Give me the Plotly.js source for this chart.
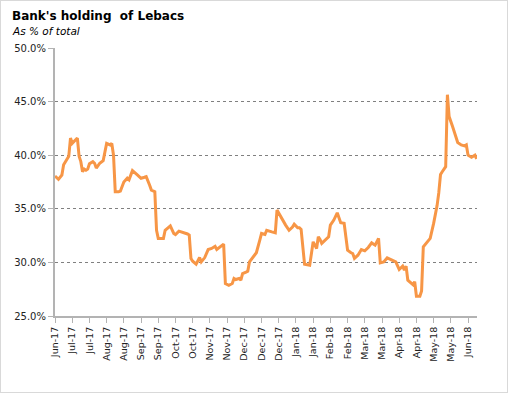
<!DOCTYPE html>
<html>
<head>
<meta charset="utf-8">
<script src="https://cdn.plot.ly/plotly-3.0.1.min.js"></script>
<style>
  html, body { margin: 0; padding: 0; background: #fff; }
  #wrap { position: absolute; left: 0; top: 0; width: 506px; height: 391px; border: 1px solid #d9d9d9; }
  #chart { width: 506px; height: 391px; }
</style>
</head>
<body>
<div id="wrap"><div id="chart"></div></div>
<script>
// Business-day index (10 per tick interval) and bank holdings as % of total
const dayIndex = [0,2,4,5,8,9,10,11,13,14,15,16,17,18,19,20,22,23,24,26,28,29,30,32,33,34,35,37,38,40,42,43,45,48,50,52,53,55,56,58,59,60,63,64,66,67,69,70,72,75,77,78,79,80,82,84,85,87,89,91,93,94,96,98,99,101,103,104,105,107,108,109,111,112,113,115,117,119,120,122,123,126,128,129,131,133,134,136,138,139,141,142,143,145,147,148,150,152,153,154,155,157,159,160,162,164,166,168,170,172,173,174,176,178,180,182,184,186,188,189,191,193,195,198,200,202,203,204,205,207,208,209,210,212,213,214,216,218,220,222,223,224,225,227,228,229,231,233,234,236,238,239,240,242,244,245];
const holdingPct = [38.06,37.75,38.15,39.1,39.9,41.6,41.1,41.3,41.6,39.9,39.4,38.46,38.7,38.6,38.7,39.2,39.4,39.25,38.8,39.25,39.5,40.3,41.1,40.96,41.1,40.0,36.6,36.6,36.65,37.5,37.85,37.7,38.56,38.15,37.85,37.94,38.0,37.2,36.75,36.6,33.0,32.24,32.24,33.0,33.26,33.4,32.7,32.6,32.92,32.8,32.65,32.55,30.37,30.11,29.83,30.46,30.05,30.45,31.2,31.3,31.5,31.2,31.45,31.7,28.03,27.87,28.03,28.5,28.4,28.5,28.34,28.96,29.1,29.18,30.05,30.45,30.9,32.08,32.7,32.6,33.0,32.85,32.76,34.88,34.26,33.64,33.48,33.0,33.3,33.57,33.23,33.23,33.08,29.83,29.74,29.74,31.92,31.3,32.39,32.15,31.77,32.1,32.39,33.48,33.95,34.63,33.7,33.64,31.14,30.9,30.83,30.37,30.67,31.2,31.08,31.39,31.82,31.61,32.24,29.96,30.05,30.42,30.27,30.05,29.34,29.65,29.27,29.65,28.34,28.09,27.93,28.2,26.84,26.84,27.34,31.45,31.82,32.24,33.64,35.3,36.5,38.2,38.46,38.93,45.64,43.6,42.67,41.59,41.18,40.96,40.87,40.96,40.0,39.8,40.0,39.65];
const tickLabels = ["Jun-17","Jul-17","Jul-17","Aug-17","Aug-17","Sep-17","Sep-17","Oct-17","Oct-17","Nov-17","Nov-17","Dec-17","Dec-17","Dec-17","Jan-18","Jan-18","Feb-18","Feb-18","Mar-18","Mar-18","Apr-18","Apr-18","May-18","May-18","Jun-18"];
const tickPositions = tickLabels.map((_, i) => i * 10);
const yTicks = [25, 30, 35, 40, 45, 50];
const yTickLabels = ["25.0%", "30.0%", "35.0%", "40.0%", "45.0%", "50.0%"];

const FONT = "DejaVu Sans, Verdana, sans-serif";

const trace = {
  x: dayIndex, y: holdingPct, type: "scatter", mode: "lines",
  line: { color: "#F79646", width: 3 },
  hoverinfo: "skip"
};

const layout = {
  width: 506, height: 391,
  margin: { l: 54, r: 30, t: 47, b: 76 },
  paper_bgcolor: "#ffffff", plot_bgcolor: "#ffffff",
  showlegend: false,
  font: { family: FONT, size: 10, color: "#333" },
  xaxis: {
    range: [0, 245.2],
    tickmode: "array", tickvals: tickPositions, ticktext: tickLabels,
    tickangle: -90, tickfont: { family: FONT, size: 9.5, color: "#222" },
    ticks: "outside", ticklen: 5, tickcolor: "#b3b3b3", tickwidth: 1,
    showline: true, linecolor: "#b3b3b3", linewidth: 2,
    showgrid: false, zeroline: false, fixedrange: true
  },
  yaxis: {
    range: [25, 50],
    tickmode: "array", tickvals: yTicks, ticktext: yTickLabels,
    tickfont: { family: FONT, size: 10, color: "#222" },
    ticks: "outside", ticklen: 5, tickcolor: "#b3b3b3", tickwidth: 1,
    showline: true, linecolor: "#b3b3b3", linewidth: 2,
    showgrid: true, gridcolor: "#808080", gridwidth: 1, griddash: "dot",
    zeroline: false, fixedrange: true
  },
  annotations: [
    { text: "<b>Bank's holding  of Lebacs</b>", xref: "paper", yref: "paper",
      x: -45/422, y: 1 + 32/268, xanchor: "left", yanchor: "middle", showarrow: false,
      font: { family: FONT, size: 12, color: "#000" } },
    { text: "<i>As % of total</i>", xref: "paper", yref: "paper",
      x: -45/422, y: 1 + 17/268, xanchor: "left", yanchor: "middle", showarrow: false,
      font: { family: FONT, size: 10.5, color: "#000" } }
  ]
};

Plotly.newPlot("chart", [trace], layout, { displayModeBar: false, staticPlot: true });
</script>
</body>
</html>
